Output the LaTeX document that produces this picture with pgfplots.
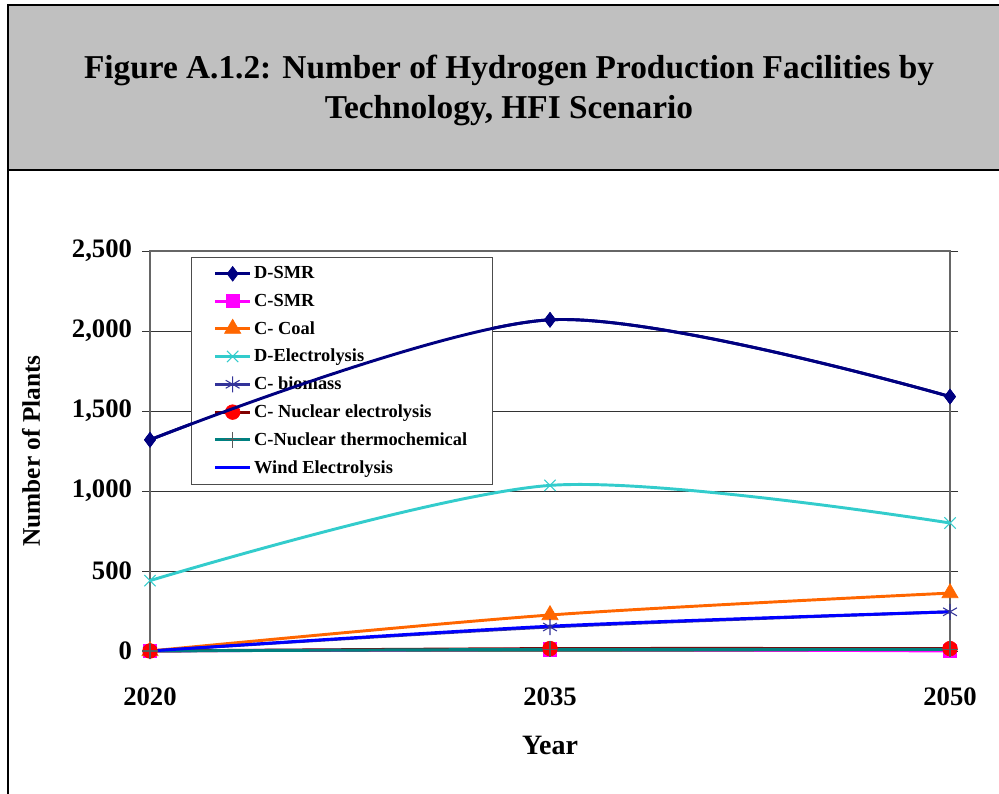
\documentclass[border=0pt]{standalone}
\usepackage{pgfplots}
\pgfplotsset{compat=1.18}
\usepackage{fontspec}
\setmainfont{Liberation Serif}

\definecolor{dsmr}{HTML}{000080}
\definecolor{csmr}{HTML}{FF00FF}
\definecolor{coal}{HTML}{FF6600}
\definecolor{delec}{HTML}{33CCCC}
\definecolor{biom}{HTML}{333399}
\definecolor{nucel}{HTML}{800000}
\definecolor{nucth}{HTML}{008080}
\definecolor{wind}{HTML}{0000FF}
\definecolor{titlegray}{HTML}{C0C0C0}

\pgfplotsset{
  base/.style={
    at={(112.5pt,106.5pt)}, anchor=south west,
    scale only axis, width=600pt, height=300pt,
    xmin=2020, xmax=2050, ymin=0, ymax=2500,
  },
}

\begin{document}
\begin{tikzpicture}[x=0.75pt,y=0.75pt]
\useasboundingbox (0,0) rectangle (999,793);
% frame and title box
\draw[line width=1.5pt] (8,-10) -- (8,788);
\draw[line width=1.5pt, fill=titlegray] (8,623) rectangle (1010,788);
\node[align=center, font=\bfseries\fontsize{25}{30}\selectfont] at (509,703)
  {Figure A.1.2: Number of Hydrogen Production Facilities by\\Technology, HFI Scenario};

\begin{axis}[base,
  axis line style={draw=gray!80!black, line width=0.8pt},
  xtick={2020,2035,2050}, xtick style={draw=none},
  ytick={0,500,1000,1500,2000,2500},
  ytick style={draw=black!80, line width=0.6pt},
  tick align=outside, major tick length=6pt,
  ymajorgrids, grid style={draw=black!80, line width=0.6pt},
  /pgf/number format/assume math mode=true,
  yticklabel style={font=\bfseries\fontsize{20}{24}\selectfont, /pgf/number format/1000 sep={,}, xshift=-4pt},
  xticklabel style={font=\bfseries\fontsize{20}{24}\selectfont, /pgf/number format/1000 sep={}, yshift=-18pt},
  xlabel={Year}, ylabel={Number of Plants},
  xlabel style={font=\bfseries\fontsize{21}{24}\selectfont, yshift=-16pt},
  ylabel style={font=\bfseries\fontsize{19}{22}\selectfont, yshift=17pt},
  clip=false,
  legend cell align=left,
  legend style={at={(0.051,0.985)}, anchor=north west, draw=black!70, line width=0.6pt,
    fill=white, font=\bfseries\fontsize{13.8}{16}\selectfont, row sep=5.8pt,
    inner xsep=17pt, inner ysep=5pt},
  legend image code/.code={\draw[mark repeat=2,mark phase=2] plot coordinates {(0pt,0pt)(13pt,0pt)(26pt,0pt)};},
  every axis plot/.append style={line width=2.2pt, smooth},
]
\addplot[dsmr, mark=diamond*, mark size=5.5pt, mark options={line width=0.5pt}]
  coordinates {(2020,1320) (2035,2070) (2050,1590)};
\addplot[csmr, mark=square*, mark size=5pt, mark options={line width=0.5pt}]
  coordinates {(2020,0) (2035,10) (2050,0)};
\addplot[coal, mark=triangle*, mark size=7pt, mark options={line width=0.5pt}]
  coordinates {(2020,0) (2035,225) (2050,362)};
\addplot[delec, mark=x, mark size=6pt, mark options={line width=0.8pt}]
  coordinates {(2020,440) (2035,1035) (2050,800)};
\addplot[biom, mark=asterisk, mark size=6pt, mark options={line width=0.8pt}]
  coordinates {(2020,0) (2035,150) (2050,245)};
\addplot[nucel, mark=*, mark size=5.5pt, mark options={fill=red, draw=red, line width=0.5pt}]
  coordinates {(2020,0) (2035,15) (2050,15)};
\addplot[nucth, mark=+, mark size=6pt, mark options={line width=0.8pt, draw=gray!70!black}]
  coordinates {(2020,0) (2035,10) (2050,10)};
\addplot[wind, no marks]
  coordinates {(2020,0) (2035,155) (2050,245)};
\legend{D-SMR, C-SMR, C- Coal, D-Electrolysis, C- biomass, C- Nuclear electrolysis, C-Nuclear thermochemical, Wind Electrolysis}
\end{axis}

% D-SMR again, over the legend box as in the reference
\begin{axis}[base, hide axis, clip=false]
\addplot[dsmr, line width=2.2pt, smooth, mark=diamond*, mark size=5.5pt, mark options={line width=0.5pt}]
  coordinates {(2020,1320) (2035,2070) (2050,1590)};
\end{axis}
\end{tikzpicture}
\end{document}
